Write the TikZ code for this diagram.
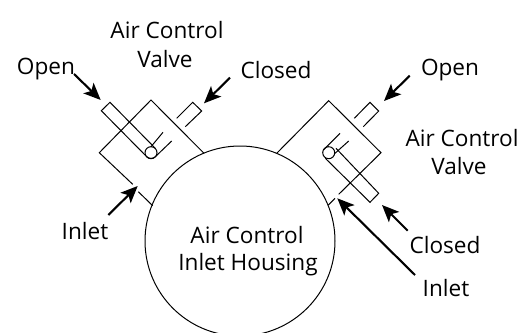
\documentclass[tikz,border=0pt]{standalone}
\usepackage{fontspec}
\setmainfont{Open Sans}
\usetikzlibrary{arrows.meta}
\tikzset{
  x=1pt,y=-1pt,
  part/.style={line width=1pt,line join=miter,black},
  pointer/.style={line width=2.1pt,black,-{Stealth[length=17pt,width=14.5pt,inset=4pt]}},
  lbl/.style={font=\fontsize{22.6}{28.5}\selectfont,text=black,inner sep=0pt,align=center,anchor=base}
}
\begin{document}
\begin{tikzpicture}
\useasboundingbox (0,0) rectangle (532,332);
\begin{scope}
\clip (0,0) rectangle (532,332);
\node[circle,draw,part,minimum size=190pt,inner sep=0pt] (housing) at (240,241) {};
\end{scope}
% left valve
\coordinate (la) at (204,153.3);
\coordinate (lb) at (151,100);
\coordinate (lc) at (99.3,152.7);
\coordinate (ld) at (132.7,184.3);
\coordinate (le) at (138.3,191.7);
\coordinate (lf) at (152.7,205.7);
\draw[part] (la) -- (lb) -- (lc) -- (ld);
\draw[part] (le) -- (lf);
\node[circle,draw,part,minimum size=12pt,inner sep=0pt] (lball) at (151,152.7) {};
\coordinate (lr1) at (155.5,148.5);
\coordinate (lr2) at (110,102.3);
\coordinate (lr3) at (101.3,110.7);
\coordinate (lr4) at (146.5,156.5);
\draw[part] (lr1) -- (lr2) -- (lr3) -- (lr4);
\draw[part] (lr4) arc[start angle=225,end angle=315,radius=6.4pt] -- (171.7,141);
\coordinate (lf1) at (151,146.7);
\coordinate (lf2) at (163,132.3);
\draw[part] (lf1) -- (lf2);
\coordinate (ls1) at (176.7,118.3);
\coordinate (ls2) at (192.7,102.3);
\coordinate (ls3) at (201.7,111);
\coordinate (ls4) at (185.3,126.7);
\draw[part] (ls1) -- (ls2) -- (ls3) -- (ls4);
% right valve
\coordinate (ra) at (276.7,153.3);
\coordinate (rb) at (328.7,100.7);
\coordinate (rc) at (381,152.7);
\coordinate (rd) at (338.7,194.3);
\coordinate (re) at (335,198.3);
\coordinate (rf) at (328.3,205);
\draw[part] (ra) -- (rb) -- (rc) -- (rd);
\draw[part] (re) -- (rf);
\node[circle,draw,part,minimum size=12pt,inner sep=0pt] (rball) at (328.7,152.7) {};
\coordinate (rr1) at (336,148.3);
\coordinate (rr2) at (378.7,193.3);
\coordinate (rr3) at (370,202.3);
\coordinate (rr4) at (325.3,158.3);
\draw[part] (rr1) -- (rr2) -- (rr3) -- (rr4);
\draw[part] (323.3,150) -- (340,133.3);
\draw[part] (335,153.3) -- (348.7,141);
\coordinate (rs1) at (354.3,118.3);
\coordinate (rs2) at (370,102.3);
\coordinate (rs3) at (378.7,111);
\coordinate (rs4) at (363.3,126.7);
\draw[part] (rs1) -- (rs2) -- (rs3) -- (rs4);
% labels
\node[lbl] (t1) at (167,38) {Air Control};
\node[lbl] (t2) at (165,67) {Valve};
\node[lbl] (t3) at (46,74) {Open};
\node[lbl] (t4) at (276,78) {Closed};
\node[lbl] (t5) at (85,239) {Inlet};
\node[lbl] (t6) at (450,75) {Open};
\node[lbl] (t7) at (462,146) {Air Control};
\node[lbl] (t8) at (459,174) {Valve};
\node[lbl] (t9) at (445,253) {Closed};
\node[lbl] (t10) at (446,296) {Inlet};
\node[lbl] (t11) at (247,243) {Air Control};
\node[lbl] (t12) at (248,270) {Inlet Housing};
% pointers
\coordinate (p1a) at (74,74); \coordinate (p1b) at (100.7,100);
\coordinate (p2a) at (230,77.7); \coordinate (p2b) at (204,103.3);
\coordinate (p3a) at (108.3,215); \coordinate (p3b) at (137.7,186);
\coordinate (p4a) at (409.7,75.7); \coordinate (p4b) at (384,101);
\coordinate (p5a) at (407.7,230.7); \coordinate (p5b) at (382,205);
\coordinate (p6a) at (415,275); \coordinate (p6b) at (337.3,198.3);
\foreach \s/\e in {p1a/p1b,p2a/p2b,p3a/p3b,p4a/p4b,p5a/p5b,p6a/p6b}
  \draw[pointer] (\s) -- (\e);
\end{tikzpicture}
\end{document}
